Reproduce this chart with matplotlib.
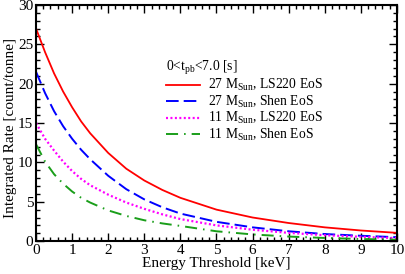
import numpy as np
import matplotlib
matplotlib.use("Agg")
import matplotlib.pyplot as plt
from matplotlib.ticker import MultipleLocator

plt.rcParams["font.family"] = ["Liberation Serif", "DejaVu Serif"]
plt.rcParams["mathtext.fontset"] = "custom"
plt.rcParams["mathtext.rm"] = "Liberation Serif"
plt.rcParams["mathtext.it"] = "Liberation Serif"

# energy threshold [keV]
threshold = [0, 0.25, 0.5, 0.75, 1, 1.25, 1.5, 2, 2.5, 3, 3.5, 4, 5, 6, 7, 8, 9, 10]

# integrated rate [count/tonne]
rate_27_ls220 = [27.0, 24.0, 21.3, 19.0, 17.0, 15.2, 13.7, 11.2, 9.2, 7.7, 6.5, 5.5,
                 4.0, 3.0, 2.3, 1.75, 1.35, 1.05]
rate_27_shen = [21.5, 18.8, 16.5, 14.6, 13.0, 11.6, 10.4, 8.3, 6.6, 5.3, 4.3, 3.5,
                2.45, 1.75, 1.25, 0.9, 0.68, 0.5]
rate_11_ls220 = [15.0, 13.0, 11.5, 10.1, 8.9, 7.9, 7.1, 5.9, 4.9, 4.1, 3.4, 2.8,
                 2.0, 1.45, 1.05, 0.75, 0.55, 0.38]
rate_11_shen = [12.3, 10.1, 8.5, 7.3, 6.3, 5.5, 4.9, 3.9, 3.2, 2.65, 2.25, 1.93,
                1.25, 0.85, 0.58, 0.4, 0.27, 0.18]

labels = [r"27 M$_{\rm Sun}$, LS220 EoS", r"27 M$_{\rm Sun}$, Shen EoS",
          r"11 M$_{\rm Sun}$, LS220 EoS", r"11 M$_{\rm Sun}$, Shen EoS"]

fig = plt.figure(figsize=(4.05, 2.74), dpi=100)
ax = fig.add_axes([0.089, 0.120, 0.891, 0.862])

ax.plot(threshold, rate_27_ls220, color="red", lw=1.3, ls="-", label=labels[0])
ax.plot(threshold, rate_27_shen, color="blue", lw=1.4, ls=(0, (6.5, 2.6)), label=labels[1])
ax.plot(threshold, rate_11_ls220, color="magenta", lw=1.6, ls=(0, (0.9, 1.1)), label=labels[2])
ax.plot(threshold, rate_11_shen, color="#1a9e1a", lw=1.4, ls=(0, (6.2, 3.1, 0.8, 3.1)), label=labels[3])

ax.set_xlim(0, 10)
ax.set_ylim(0, 30)
ax.xaxis.set_major_locator(MultipleLocator(1))
ax.xaxis.set_minor_locator(MultipleLocator(0.2))
ax.yaxis.set_major_locator(MultipleLocator(5))
ax.yaxis.set_minor_locator(MultipleLocator(1))
ax.tick_params(which="both", direction="in", top=True, right=True, labelsize=11, width=1.0)
ax.tick_params(which="major", length=6, pad=2)
ax.tick_params(which="minor", length=3)
for s in ax.spines.values():
    s.set_linewidth(1.5)

ax.set_xlabel("Energy Threshold [keV]", fontsize=11, labelpad=0)
ax.set_ylabel("Integrated Rate [count/tonne]", fontsize=11)
ax.yaxis.set_label_coords(-0.053, 0.48)

leg = ax.legend(title=r"0<t$_{\rm pb}$<7.0 [s]", loc="upper left", bbox_to_anchor=(0.335, 0.812),
                frameon=False, fontsize=9.8, title_fontsize=9.8, handlelength=2.5,
                handletextpad=0.52, labelspacing=0.03, borderpad=0.2)
leg._legend_box.align = "left"

fig.savefig("out.png", dpi=100)
